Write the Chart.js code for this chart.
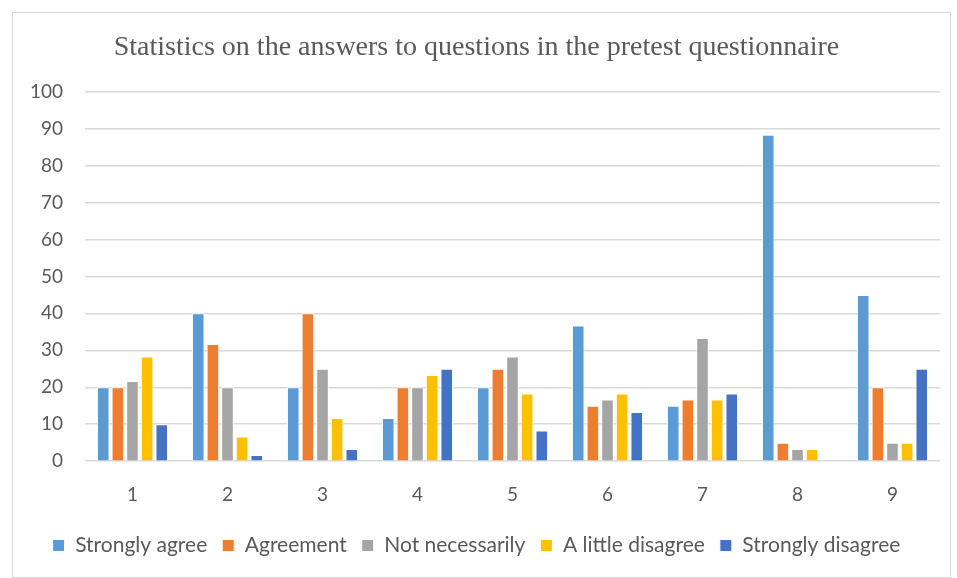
<!DOCTYPE html>
<html>
<head>
<meta charset="utf-8">
<script src="https://cdn.jsdelivr.net/npm/chart.js@4/dist/chart.umd.min.js"></script>
<style>
  html, body { margin: 0; padding: 0; background: #fff; }
  #wrap { position: absolute; left: 12px; top: 12px; width: 937px; height: 564px; border: 1px solid #d9d9d9; }
</style>
</head>
<body>
<div id="wrap"><canvas id="myChart"></canvas></div>
<script>
// Question numbers on the x axis
const questions = ['1', '2', '3', '4', '5', '6', '7', '8', '9'];

// Percent of answers per option, one array per answer option
const stronglyAgree    = [20, 40, 20, 11.7, 20, 36.7, 15, 88.3, 45];
const agreement        = [20, 31.7, 40, 20, 25, 15, 16.7, 5, 20];
const notNecessarily   = [21.7, 20, 25, 20, 28.3, 16.7, 33.3, 3.3, 5];
const littleDisagree   = [28.3, 6.7, 11.7, 23.3, 18.3, 18.3, 16.7, 3.3, 5];
const stronglyDisagree = [10, 1.7, 3.3, 25, 8.3, 13.3, 18.3, 0, 25];

const yTicks = [0, 10, 20, 30, 40, 50, 60, 70, 80, 90, 100];

const textColor = '#595959';

function series(label, values, color) {
    return {
        label: label,
        data: values,
        backgroundColor: color,
        borderColor: '#ffffff',
        borderWidth: 1,
        categoryPercentage: 0.77,
        barPercentage: 0.86
    };
}

const ctx = document.getElementById('myChart').getContext('2d');
new Chart(ctx, {
    type: 'bar',
    data: {
        labels: questions,
        datasets: [
            series('Strongly agree', stronglyAgree, '#5B9BD5'),
            series('Agreement', agreement, '#ED7D31'),
            series('Not necessarily', notNecessarily, '#A5A5A5'),
            series('A little disagree', littleDisagree, '#FFC000'),
            series('Strongly disagree', stronglyDisagree, '#4472C4')
        ]
    },
    options: {
        responsive: true,
        maintainAspectRatio: false,
        animation: false,
        layout: { padding: { left: 0, right: 10, top: 6, bottom: 11 } },
        plugins: {
            title: {
                display: true,
                text: 'Statistics on the answers to questions in the pretest questionnaire',
                color: textColor,
                font: { family: '"Liberation Serif", serif', size: 28, weight: 'normal' },
                padding: { top: 12, bottom: 27 }
            },
            legend: {
                position: 'bottom',
                labels: {
                    color: textColor,
                    font: { family: 'Lato, sans-serif', size: 21 },
                    boxWidth: 12,
                    boxHeight: 12,
                    padding: 15
                }
            },
            tooltip: { enabled: false }
        },
        scales: {
            x: {
                grid: { display: false },
                border: { display: false },
                ticks: {
                    color: textColor,
                    font: { family: 'Lato, sans-serif', size: 19 },
                    padding: 14
                }
            },
            y: {
                min: 0,
                max: 100,
                afterBuildTicks: function (scale) {
                    scale.ticks = yTicks.map(v => ({ value: v }));
                },
                afterFit: function (scale) {
                    scale.width = 72;
                },
                grid: { color: '#d9d9d9', lineWidth: 1.5, drawTicks: false },
                border: { display: false },
                ticks: {
                    color: textColor,
                    font: { family: 'Lato, sans-serif', size: 19 },
                    padding: 22
                }
            }
        }
    }
});
</script>
</body>
</html>
